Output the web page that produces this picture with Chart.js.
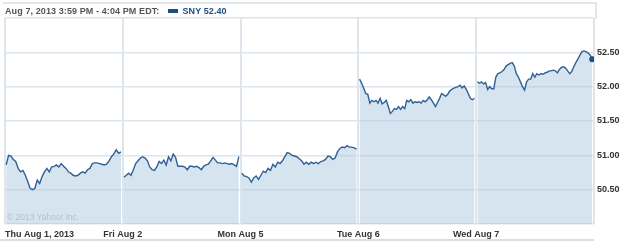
<!DOCTYPE html>
<html>
<head>
<meta charset="utf-8">
<script src="https://cdn.jsdelivr.net/npm/chart.js@4"></script>
<style>
  html, body { margin: 0; padding: 0; background: #fff; }
  #wrap { position: relative; width: 625px; height: 242px; overflow: hidden; }
  #chart { position: absolute; left: 0; top: 0; }
  #head {
    position: absolute; left: 3px; top: 2px; width: 590px; height: 15px;
    border-top: 2px solid #e2e7ed; border-right: 2px solid #e2e7ed;
    font: bold 9px "Liberation Sans", Arial, sans-serif; color: #555;
    line-height: 15px; padding-left: 2px; white-space: nowrap; letter-spacing: 0.1px;
  }
  #head .sw { display: inline-block; width: 10px; height: 4px; background: #1f4e7e; margin: 0 4px 1px 9px; vertical-align: middle; }
  #head .sym { color: #1f4e7e; }
  #copy {
    position: absolute; left: 7px; top: 212px;
    font: 8.5px "Liberation Sans", Arial, sans-serif; color: #b3c1cf;
  }
  #foot { position: absolute; left: 0; top: 239px; width: 594px; height: 2px; background: #dadfe4; }
</style>
</head>
<body>
<div id="wrap">
  <canvas id="chart" width="625" height="242"></canvas>
  <div id="head">Aug 7, 2013 3:59 PM - 4:04 PM EDT:<span class="sw"></span><span class="sym">SNY 52.40</span></div>
  <div id="copy">© 2013 Yahoo! Inc.</div>
  <div id="foot"></div>
</div>
<script>
// --- data ---
const dayLabels = ["Thu Aug 1, 2013", "Fri Aug 2", "Mon Aug 5", "Tue Aug 6", "Wed Aug 7"];
const yTicks = [50.5, 51.0, 51.5, 52.0, 52.5];

const aug1 = [50.86, 51.00, 50.99, 50.94, 50.91, 50.81, 50.76, 50.78, 50.71, 50.62, 50.52, 50.50,
  50.52, 50.64, 50.59, 50.69, 50.76, 50.81, 50.76, 50.83, 50.84, 50.86, 50.83, 50.88, 50.84, 50.81,
  50.76, 50.74, 50.71, 50.70, 50.71, 50.74, 50.76, 50.74, 50.79, 50.81, 50.88, 50.89, 50.89, 50.88,
  50.87, 50.86, 50.87, 50.92, 50.98, 51.02, 51.08, 51.03, 51.05];
const aug2 = [50.68, 50.71, 50.74, 50.71, 50.79, 50.88, 50.92, 50.96, 50.98, 50.96, 50.92, 50.83,
  50.79, 50.78, 50.83, 50.91, 50.88, 50.93, 50.86, 50.98, 50.92, 51.02, 50.97, 50.84, 50.84, 50.84,
  50.83, 50.79, 50.84, 50.84, 50.83, 50.84, 50.82, 50.79, 50.84, 50.86, 50.87, 50.92, 50.97, 50.93,
  50.89, 50.89, 50.88, 50.89, 50.88, 50.87, 50.88, 50.86, 50.84, 50.98];
const aug5 = [50.74, 50.70, 50.69, 50.67, 50.61, 50.67, 50.70, 50.65, 50.71, 50.77, 50.75, 50.81,
  50.78, 50.87, 50.83, 50.90, 50.88, 50.92, 50.98, 51.04, 51.03, 51.00, 50.99, 50.98, 50.95, 50.92,
  50.87, 50.90, 50.87, 50.90, 50.88, 50.90, 50.88, 50.91, 50.92, 50.94, 50.99, 50.98, 50.94, 50.96,
  51.05, 51.10, 51.12, 51.11, 51.14, 51.12, 51.12, 51.11, 51.09];
const aug6 = [52.11, 52.05, 51.98, 51.90, 51.89, 51.76, 51.80, 51.78, 51.80, 51.76, 51.83, 51.75,
  51.77, 51.80, 51.71, 51.61, 51.64, 51.68, 51.67, 51.71, 51.67, 51.71, 51.68, 51.80, 51.78, 51.81,
  51.76, 51.78, 51.77, 51.78, 51.76, 51.80, 51.78, 51.81, 51.85, 51.81, 51.76, 51.71, 51.77, 51.83,
  51.90, 51.88, 51.86, 51.89, 51.94, 51.96, 51.98, 51.99, 52.00, 52.02, 51.98, 52.01, 51.96, 51.90,
  51.83, 51.81, 51.83];
const aug7 = [52.07, 52.05, 52.07, 52.04, 52.06, 51.96, 52.00, 51.97, 51.97, 52.14, 52.19, 52.20,
  52.22, 52.25, 52.30, 52.32, 52.34, 52.35, 52.30, 52.19, 52.14, 52.07, 52.00, 51.95, 52.07, 52.11,
  52.11, 52.19, 52.14, 52.19, 52.17, 52.19, 52.18, 52.20, 52.21, 52.23, 52.23, 52.24, 52.23, 52.20,
  52.25, 52.28, 52.29, 52.27, 52.23, 52.19, 52.22, 52.29, 52.35, 52.40, 52.46, 52.51, 52.52, 52.51,
  52.49, 52.46, 52.40];

const days = [aug1, aug2, aug5, aug6, aug7];

const lineColor = "#2f6096";
const fillColor = "rgba(164, 195, 222, 0.45)";
const gridColor = "#dfe5ec";

// each trading day sits in its own slot between two vertical grid lines
const datasets = days.map((prices, d) => ({
  data: prices.map((p, i) => ({ x: d + 0.01 + 0.975 * i / (prices.length - 1), y: p })),
  borderColor: lineColor,
  borderWidth: 1.4,
  backgroundColor: fillColor,
  fill: "start",
  tension: 0,
  pointRadius: d === days.length - 1 ? (c) => (c.dataIndex === prices.length - 1 ? 3 : 0) : 0,
  pointBackgroundColor: "#1d4f80",
  pointBorderWidth: 0,
}));

const font = { family: "'Liberation Sans', Arial, sans-serif", size: 9, weight: "bold" };

new Chart(document.getElementById("chart"), {
  type: "line",
  data: { datasets },
  options: {
    responsive: false,
    animation: false,
    layout: { padding: { left: 3, top: 18, right: 0, bottom: 0 } },
    plugins: { legend: { display: false }, tooltip: { enabled: false } },
    scales: {
      x: {
        type: "linear",
        min: 0,
        max: 5,
        afterFit: (s) => { s.height = 18; },
        afterBuildTicks: (s) => { s.ticks = [0, 1, 2, 3, 4, 5].map(v => ({ value: v })); },
        grid: { color: gridColor, lineWidth: 2, drawTicks: false },
        border: { display: false },
        ticks: {
          align: "inner",
          padding: 5,
          color: "#333",
          font,
          maxRotation: 0,
          autoSkip: false,
          callback: (v) => dayLabels[v] || "",
        },
      },
      y: {
        position: "right",
        min: 50,
        max: 53,
        afterFit: (s) => { s.width = 31; },
        afterBuildTicks: (s) => { s.ticks = [50, ...yTicks, 53].map(v => ({ value: v })); },
        grid: { color: gridColor, lineWidth: 1.5, drawTicks: false },
        border: { display: false },
        ticks: {
          padding: 3,
          color: "#333",
          font,
          callback: (v) => (yTicks.includes(v) ? v.toFixed(2) : ""),
        },
      },
    },
  },
});
</script>
</body>
</html>
